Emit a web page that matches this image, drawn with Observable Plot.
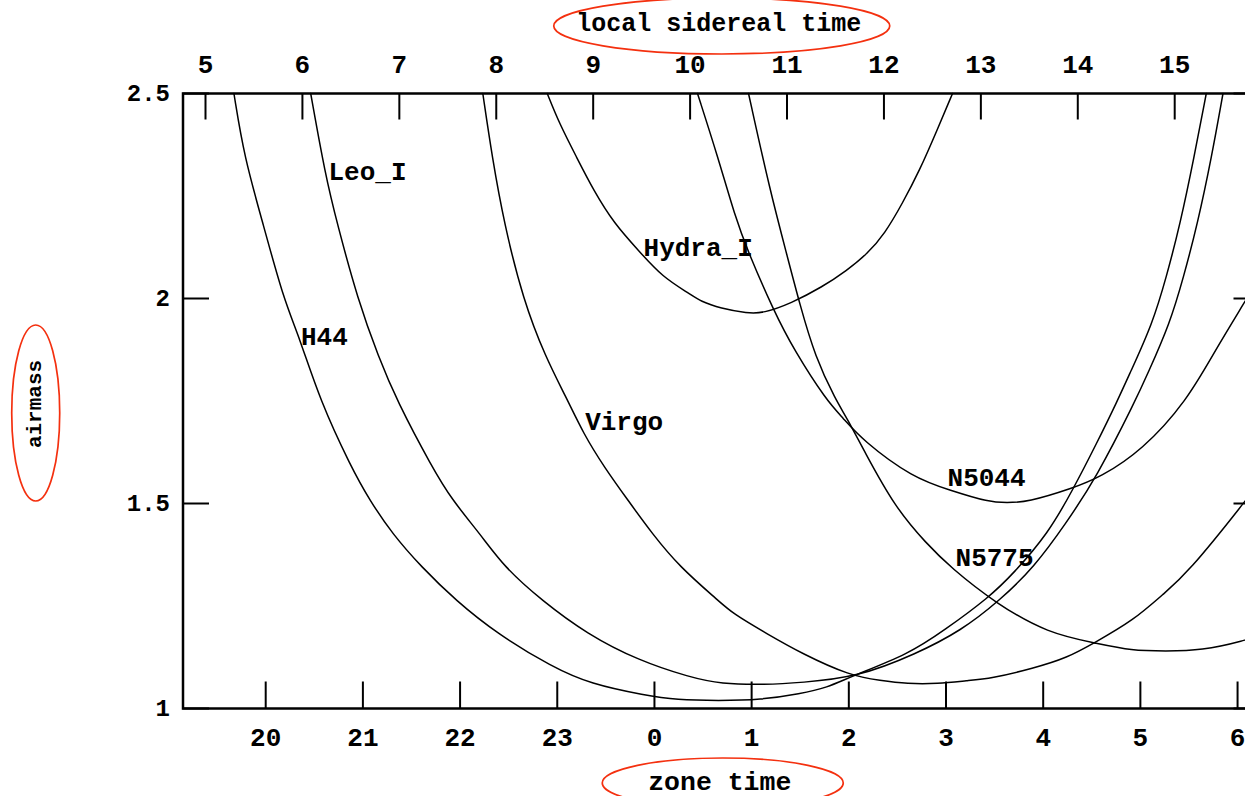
<!DOCTYPE html>
<html>
<head>
<meta charset="utf-8">
<script src="https://cdn.jsdelivr.net/npm/d3@7"></script>
<script src="https://cdn.jsdelivr.net/npm/@observablehq/plot@0.6"></script>
<style>
  html, body { margin: 0; padding: 0; background: #fff; overflow: hidden; }
  #chart svg { display: block; max-width: none !important; }
</style>
</head>
<body>
<div id="chart"></div>
<script>
// Zone time runs on past midnight as 24, 25, ... so the night is one continuous axis.
const zoneTicks = [20, 21, 22, 23, 24, 25, 26, 27, 28, 29, 30];
const lstTicks = [5, 6, 7, 8, 9, 10, 11, 12, 13, 14, 15];
const airmassTicks = [1, 1.5, 2, 2.5];

// Local sidereal time 5h falls at zone time 19.38h; a sidereal hour is 0.99727 solar hours.
const lstRef = 5;
const lstRefZone = 19.3805;
const solarPerSidereal = 0.99727;
const lstToZone = (lst) => lstRefZone + (lst - lstRef) * solarPerSidereal;

// Airmass tracks: [zone time (h), airmass]
const h44 = [
  [19.673, 2.5], [19.779, 2.345], [19.973, 2.182], [20.186, 1.997], [20.346, 1.906],
  [20.559, 1.751], [20.878, 1.589], [21.072, 1.507], [21.303, 1.426], [21.603, 1.345],
  [21.958, 1.263], [22.383, 1.182], [22.950, 1.101], [23.340, 1.060], [23.907, 1.032],
  [24.227, 1.021], [24.659, 1.019], [25.092, 1.021], [25.503, 1.036], [25.778, 1.051],
  [26.013, 1.077], [26.620, 1.133], [26.978, 1.190], [27.443, 1.271], [27.693, 1.329],
  [28.051, 1.427], [28.302, 1.532], [28.549, 1.646], [28.765, 1.751], [28.889, 1.816],
  [29.124, 1.938], [29.267, 2.052], [29.410, 2.182], [29.553, 2.345], [29.678, 2.5]
];
const leoI = [
  [20.463, 2.5], [20.611, 2.304], [20.736, 2.182], [20.948, 1.997], [21.161, 1.857],
  [21.349, 1.751], [21.710, 1.589], [21.922, 1.507], [22.206, 1.426], [22.454, 1.345],
  [22.844, 1.263], [23.304, 1.182], [23.836, 1.117], [24.367, 1.076], [24.680, 1.060],
  [25.143, 1.058], [25.503, 1.063], [26.084, 1.076], [26.692, 1.133], [27.157, 1.190],
  [27.551, 1.263], [27.908, 1.345], [28.230, 1.450], [28.549, 1.564], [28.950, 1.751],
  [29.074, 1.816], [29.302, 1.938], [29.444, 2.052], [29.588, 2.182], [29.733, 2.345],
  [29.850, 2.5]
];
const virgo = [
  [22.234, 2.5], [22.330, 2.345], [22.454, 2.182], [22.649, 1.997], [22.879, 1.857],
  [23.092, 1.759], [23.270, 1.670], [23.482, 1.589], [23.730, 1.507], [23.978, 1.426],
  [24.261, 1.345], [24.659, 1.263], [24.803, 1.232], [25.160, 1.182], [25.524, 1.133],
  [26.013, 1.080], [26.326, 1.068], [26.601, 1.060], [26.913, 1.060], [27.219, 1.068],
  [27.458, 1.073], [27.901, 1.098], [28.251, 1.124], [28.518, 1.159], [28.930, 1.215],
  [29.239, 1.280], [29.482, 1.329], [30.085, 1.507], [30.236, 1.556]
];
const hydraI = [
  [22.897, 2.5], [23.021, 2.427], [23.198, 2.345], [23.375, 2.263], [23.588, 2.182],
  [23.836, 2.117], [24.083, 2.052], [24.367, 2.011], [24.474, 1.993], [24.680, 1.976],
  [24.958, 1.964], [25.118, 1.964], [25.404, 1.988], [25.726, 2.028], [25.977, 2.068],
  [26.191, 2.109], [26.370, 2.158], [26.549, 2.231], [26.728, 2.312], [26.907, 2.410],
  [27.067, 2.5]
];
const n5044 = [
  [24.443, 2.5], [24.653, 2.345], [24.832, 2.198], [24.958, 2.117], [25.225, 1.971],
  [25.439, 1.873], [25.771, 1.751], [25.935, 1.710], [26.141, 1.654], [26.656, 1.563],
  [27.046, 1.532], [27.443, 1.503], [27.623, 1.502], [27.836, 1.503], [28.302, 1.537],
  [28.587, 1.564], [29.016, 1.629], [29.481, 1.751], [29.768, 1.873], [30.083, 1.995],
  [30.236, 2.056]
];
const n5775 = [
  [24.968, 2.5], [25.189, 2.263], [25.369, 2.101], [25.493, 1.988], [25.654, 1.857],
  [25.869, 1.751], [25.977, 1.710], [26.156, 1.629], [26.477, 1.490], [26.800, 1.402],
  [27.047, 1.344], [27.514, 1.256], [28.051, 1.183], [28.549, 1.159], [28.909, 1.141],
  [29.259, 1.140], [29.624, 1.141], [30.083, 1.166], [30.236, 1.180]
];

const objectNames = ["H44", "Leo_I", "Virgo", "Hydra_I", "N5044", "N5775"];
const tracks = [h44, leoI, virgo, hydraI, n5044, n5775];

// Where each object's name is written: [zone time, airmass] of the label's left middle.
const labelAnchors = [
  [20.363, 1.907], [20.646, 2.310], [23.287, 1.700], [23.888, 2.124], [27.016, 1.563], [27.098, 1.368]
];

const rows = tracks.flatMap((pts, i) => pts.map(([t, a]) => ({name: objectNames[i], t, a})));
const labels = objectNames.map((name, i) => ({name, t: labelAnchors[i][0], a: labelAnchors[i][1]}));

const font = {fontFamily: "'Liberation Mono', 'DejaVu Sans Mono', monospace", fontWeight: "bold", fill: "black"};

const W = 1260, H = 796;
const mL = 182.5, mR = 0, mT = 93, mB = 88;
const innerW = W - mL - mR, innerH = H - mT - mB;
const tickLen = 26.5;

const chart = Plot.plot({
  width: W,
  height: H,
  marginLeft: mL, marginRight: mR, marginTop: mT, marginBottom: mB,
  x: {domain: [19.149, 30.236], axis: null},
  y: {domain: [1, 2.5], axis: null},
  style: {background: "white", maxWidth: "none", overflow: "visible"},
  marks: [
    Plot.line(rows, {x: "t", y: "a", z: "name", curve: "basis", stroke: "black", strokeWidth: 1.5}),
    // inward ticks on all four sides
    Plot.tickX(zoneTicks, {x: d => d, insetTop: innerH - tickLen, stroke: "black", strokeWidth: 2}),
    Plot.tickX(lstTicks, {x: lstToZone, insetBottom: innerH - tickLen, stroke: "black", strokeWidth: 2}),
    Plot.tickY(airmassTicks, {y: d => d, insetRight: innerW - tickLen, stroke: "black", strokeWidth: 2}),
    Plot.tickY(airmassTicks, {y: d => d, insetLeft: innerW - tickLen, stroke: "black", strokeWidth: 2}),
    Plot.frame({stroke: "black", strokeWidth: 2.5}),
    // tick labels
    Plot.text(zoneTicks, {x: d => d, text: d => String(d % 24), frameAnchor: "bottom", lineAnchor: "middle", dy: 29, fontSize: 26, ...font}),
    Plot.text(lstTicks, {x: lstToZone, text: d => String(d), frameAnchor: "top", lineAnchor: "middle", dy: -29, fontSize: 26, ...font}),
    Plot.text(airmassTicks, {y: d => d, text: d => String(d), frameAnchor: "left", textAnchor: "end", lineAnchor: "middle", dx: -13, fontSize: 24, ...font}),
    // object names
    Plot.text(labels, {x: "t", y: "a", text: "name", textAnchor: "start", lineAnchor: "middle", fontSize: 26, ...font}),
    // axis titles
    Plot.text(["local sidereal time"], {frameAnchor: "top", textAnchor: "middle", lineAnchor: "middle", dy: -71, dx: -3, fontSize: 25, className: "axis-title", ...font}),
    Plot.text(["zone time"], {frameAnchor: "bottom", textAnchor: "middle", lineAnchor: "middle", dy: 73, dx: -2, fontSize: 26.5, className: "axis-title", ...font}),
    Plot.text(["airmass"], {frameAnchor: "left", textAnchor: "middle", lineAnchor: "middle", rotate: -90, dx: -148.5, dy: 3, fontSize: 21, className: "axis-title", ...font})
  ]
});

document.getElementById("chart").append(chart);

// Red rings drawn round the three axis titles.
const ringSizes = {
  "local sidereal time": {rx: 168, ry: 28, dx: 3, dy: 2},
  "zone time": {rx: 120.5, ry: 25, dx: 3, dy: 0},
  "airmass": {rx: 24, ry: 88, dx: 0, dy: 9}
};
const svg = d3.select(chart);
const svgBox = chart.getBoundingClientRect();
svg.selectAll(".axis-title text").each(function () {
  const ring = ringSizes[this.textContent];
  if (!ring) return;
  const b = this.getBoundingClientRect();
  svg.append("ellipse")
    .attr("cx", b.x - svgBox.x + b.width / 2 + ring.dx)
    .attr("cy", b.y - svgBox.y + b.height / 2 + ring.dy)
    .attr("rx", ring.rx)
    .attr("ry", ring.ry)
    .attr("fill", "none")
    .attr("stroke", "#f4300f")
    .attr("stroke-width", 1.7);
});
</script>
</body>
</html>
